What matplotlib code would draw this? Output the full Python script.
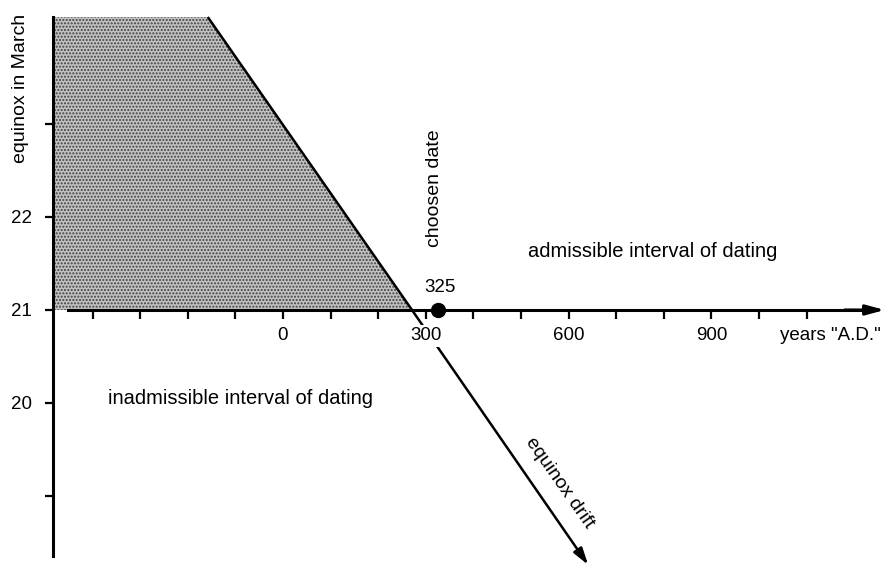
import matplotlib
matplotlib.use('Agg')
import matplotlib.pyplot as plt
import numpy as np

# axis ticks (years A.D. / day of the March equinox)
year_ticks = np.arange(-400, 1101, 100)
year_labels = {0: '0', 300: '300', 600: '600', 900: '900'}
day_ticks = [19, 20, 21, 22, 23]
day_labels = ['', '20', '21', '22', '']

# equinox drift line: start, crossing of day 21, arrow tip
drift_years = [-158, 271, 641]
drift_days = [24.15, 21.0, 18.26]

# inadmissible (shaded) region
shade_years = [-480, -158, 271, -480]
shade_days = [24.15, 24.15, 21.0, 21.0]

chosen_year = 325

plt.rcParams['font.family'] = ['Liberation Sans', 'DejaVu Sans']
plt.rcParams['hatch.linewidth'] = 1.0

fig = plt.figure(figsize=(8.87, 5.69), dpi=100)
ax = fig.add_axes([0, 0, 1, 1])
ax.set_xlim(-594.5, 1268.9)
ax.set_ylim(18.215, 24.333)

# shaded area left of the drift line (halftone look)
ax.fill(shade_years, shade_days, facecolor='#c2c2c2', edgecolor='#404040',
        hatch='.....', linewidth=0, zorder=1)

# spines as the two axes
for s in ['top', 'right']:
    ax.spines[s].set_visible(False)
ax.spines['left'].set_position(('data', -483))
ax.spines['left'].set_bounds(18.35, 24.15)
ax.spines['left'].set_linewidth(2.2)
ax.spines['bottom'].set_position(('data', 21))
ax.spines['bottom'].set_bounds(-452, 1240)
ax.spines['bottom'].set_linewidth(2.2)

ax.set_xticks(year_ticks)
ax.set_xticklabels([year_labels.get(y, '') for y in year_ticks])
ax.tick_params(axis='x', direction='out', length=6.5, width=1.6, pad=6,
               labelsize=13.5)
for lab in ax.get_xticklabels():
    lab.set_bbox(dict(facecolor='white', edgecolor='none', pad=2))

ax.set_yticks(day_ticks)
ax.set_yticklabels(day_labels)
ax.tick_params(axis='y', direction='out', length=6, width=1.6, pad=9,
               labelsize=13.5)

# arrow head of the time axis
ax.annotate('', xy=(1264, 21), xytext=(1180, 21),
            arrowprops=dict(arrowstyle='-|>,head_length=1.1,head_width=0.3',
                            color='black', lw=2.2, shrinkA=0, shrinkB=0))

# equinox drift
ax.plot(drift_years[:2], drift_days[:2], color='black', lw=1.8,
        solid_capstyle='butt', zorder=2)
ax.annotate('', xy=(drift_years[2], drift_days[2]),
            xytext=(drift_years[1], drift_days[1]), zorder=1,
            arrowprops=dict(arrowstyle='-|>,head_length=1.0,head_width=0.3',
                            color='black', lw=1.8, shrinkA=0, shrinkB=0))

# chosen date
ax.plot(chosen_year, 21, 'o', ms=10, color='black', zorder=4)
ax.text(chosen_year + 5, 21.24, str(chosen_year), ha='center', va='center',
        fontsize=13.5)
ax.text(319, 22.31, 'choosen date', rotation=90, ha='center', va='center',
        fontsize=14)

ax.text(777, 21.63, 'admissible interval of dating', ha='center',
        va='center', fontsize=14.5)
ax.text(-90, 20.05, 'inadmissible interval of dating', ha='center',
        va='center', fontsize=14.5)
ax.text(1149, 20.73, 'years "A.D."', ha='center', va='center', fontsize=13.5)
ax.text(-552, 23.38, 'equinox in March', rotation=90, ha='center',
        va='center', fontsize=14)
ax.text(582, 19.14, 'equinox drift', rotation=-55, ha='center',
        va='center', fontsize=14, rotation_mode='anchor')

fig.savefig('out.png', dpi=100)
